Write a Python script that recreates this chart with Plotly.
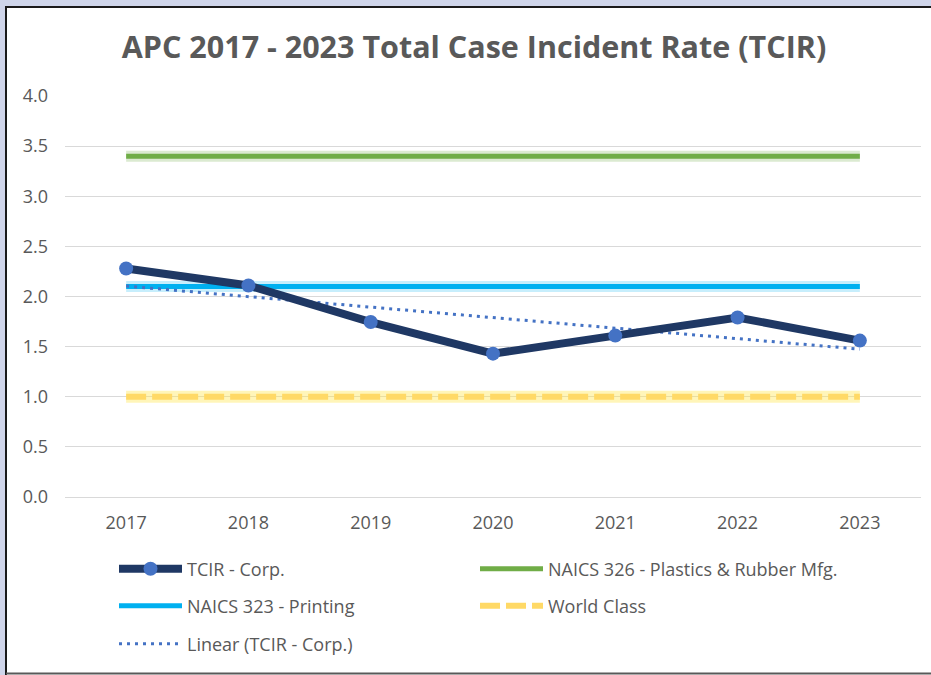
import plotly.graph_objects as go
import numpy as np

years = ["2017", "2018", "2019", "2020", "2021", "2022", "2023"]
tcir_corp = [2.28, 2.11, 1.745, 1.43, 1.61, 1.79, 1.56]
naics_326 = [3.40] * 7
naics_323 = [2.10] * 7
world_class = [1.00] * 7
y_ticks = [0.0, 0.5, 1.0, 1.5, 2.0, 2.5, 3.0, 3.5, 4.0]

# Excel-style linear trendline of TCIR - Corp.
xi = np.arange(len(years))
slope, intercept = np.polyfit(xi, tcir_corp, 1)
trend = list(intercept + slope * xi)

W, H = 931, 675
ML, MR, MT, MB = 65, 10, 96, 178
PW, PH = W - ML - MR, H - MT - MB
def px(x):
    return (x - ML) / PW
def py(y):
    return (H - MB - y) / PH

TXT = "#595959"
FONT = "Open Sans"

fig = go.Figure()

def halo(yv, color, width):
    fig.add_trace(go.Scatter(x=years, y=yv, mode="lines", showlegend=False, hoverinfo="skip",
                             line=dict(color=color, width=width)))

halo(naics_326, "rgba(112,173,71,0.25)", 11)
halo(naics_323, "rgba(0,176,240,0.22)", 11)
halo(world_class, "rgba(255,230,80,0.40)", 12)

fig.add_trace(go.Scatter(x=years, y=naics_326, name="NAICS 326 - Plastics & Rubber Mfg.", mode="lines",
                         line=dict(color="#70AD47", width=5), legend="legend2"))
fig.add_trace(go.Scatter(x=years, y=naics_323, name="NAICS 323 - Printing", mode="lines",
                         line=dict(color="#00B0F0", width=5), legend="legend3"))
fig.add_trace(go.Scatter(x=years, y=world_class, name="World Class", mode="lines",
                         line=dict(color="#FFD966", width=6, dash="20px,6px"), legend="legend4"))
fig.add_trace(go.Scatter(x=years, y=trend, name="Linear (TCIR - Corp.)", mode="lines",
                         line=dict(color="#4472C4", width=3, dash="3px,5px"), legend="legend5"))
fig.add_trace(go.Scatter(x=years, y=tcir_corp, name="TCIR - Corp.", mode="lines+markers",
                         line=dict(color="#1F3864", width=8),
                         marker=dict(color="#4472C4", size=14), legend="legend"))

def leg(xpix, ypix):
    return dict(orientation="v", xanchor="left", yanchor="middle", x=px(xpix), y=py(ypix),
                font=dict(family=FONT, size=18, color=TXT), bgcolor="rgba(0,0,0,0)",
                itemwidth=63)

shapes = [
    dict(type="rect", xref="paper", yref="paper", x0=px(0), x1=px(W), y0=py(0), y1=py(6.5),
         fillcolor="#CFD5EA", line=dict(width=0), layer="above"),
    dict(type="rect", xref="paper", yref="paper", x0=px(0), x1=px(5.5), y0=py(0), y1=py(H),
         fillcolor="#CFD5EA", line=dict(width=0), layer="above"),
    dict(type="line", xref="paper", yref="paper", x0=px(5), x1=px(W), y0=py(7), y1=py(7),
         line=dict(color="#1A1A1A", width=2), layer="above"),
    dict(type="line", xref="paper", yref="paper", x0=px(6), x1=px(6), y0=py(6), y1=py(H),
         line=dict(color="#1A1A1A", width=2), layer="above"),
    dict(type="line", xref="paper", yref="paper", x0=px(6), x1=px(W), y0=py(673.5), y1=py(673.5),
         line=dict(color="#595959", width=2), layer="above"),
]

fig.update_layout(
    width=W, height=H,
    margin=dict(l=ML, r=MR, t=MT, b=MB),
    paper_bgcolor="white", plot_bgcolor="white",
    title=dict(text="<b>APC 2017 - 2023 Total Case Incident Rate (TCIR)</b>",
               x=px(474), xref="paper", xanchor="center", y=1 - 47 / H, yanchor="middle",
               font=dict(family=FONT, size=30.5, color=TXT)),
    xaxis=dict(type="category", range=[-0.5, 6.5], showgrid=False, showline=False, ticks="",
               tickfont=dict(family=FONT, size=18, color=TXT), ticklabelstandoff=13),
    yaxis=dict(range=[0, 4], tickvals=y_ticks, tickformat=".1f", showgrid=True,
               gridcolor="#D9D9D9", gridwidth=1, zeroline=True, zerolinecolor="#D9D9D9",
               zerolinewidth=1, showline=False, ticks="", ticklabelstandoff=16,
               tickfont=dict(family=FONT, size=18, color=TXT)),
    legend=leg(114, 569),
    legend2=leg(475, 569),
    legend3=leg(114, 606),
    legend4=leg(475, 606),
    legend5=leg(114, 644),
    shapes=shapes,
)

fig.write_html("out.html", config={"displayModeBar": False},
               post_script="document.body.style.margin='0';")
